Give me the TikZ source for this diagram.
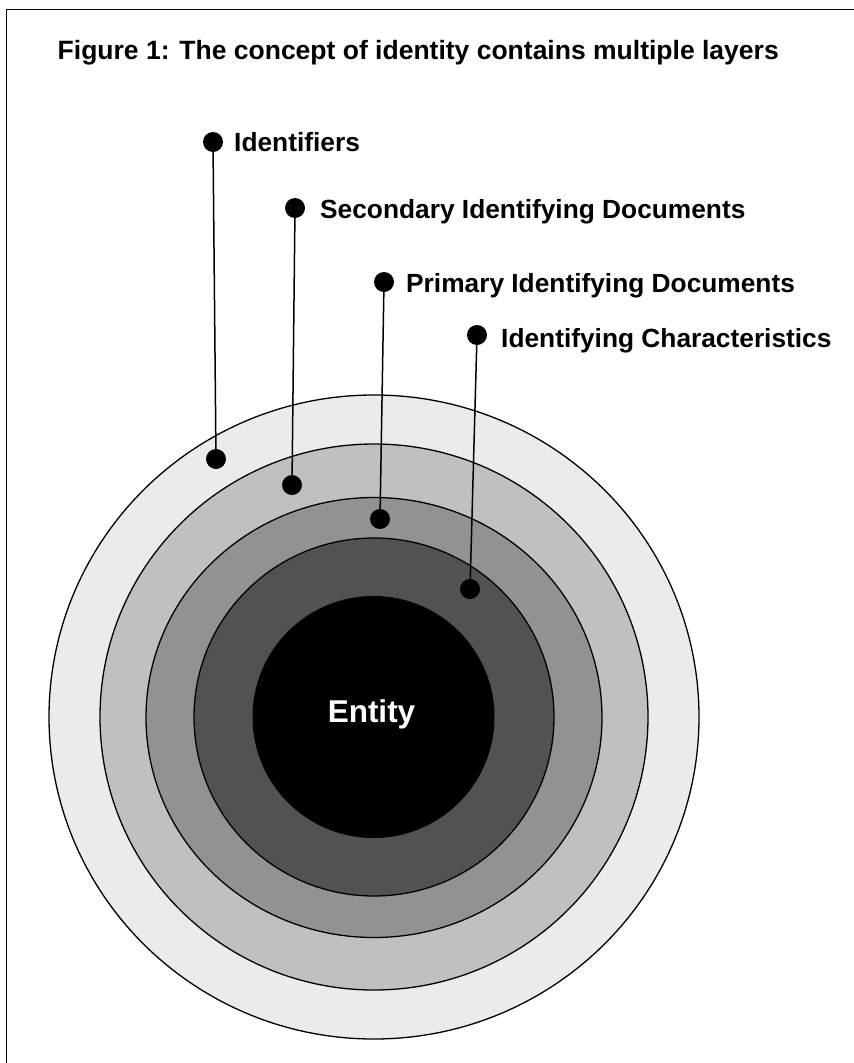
\documentclass[tikz,border=0pt]{standalone}
\usepackage{fontspec}
\setmainfont{Liberation Sans}
\usetikzlibrary{shapes.geometric}
\definecolor{ringA}{HTML}{EBEBEB}
\definecolor{ringB}{HTML}{C0C0C0}
\definecolor{ringC}{HTML}{929292}
\definecolor{ringD}{HTML}{525252}
\tikzset{
  ring/.style={ellipse, draw=black, line width=1.3pt, inner sep=0pt},
  dotnode/.style={circle, fill=black, inner sep=0pt, minimum size=20pt},
  lbl/.style={anchor=base west, inner sep=0pt, font=\fontsize{26.3}{30}\selectfont\bfseries},
  ttl/.style={anchor=base west, inner sep=0pt, font=\fontsize{26.5}{30}\selectfont\bfseries},
  leader/.style={line width=1.5pt, black},
}
\begin{document}
\begin{tikzpicture}[x=1pt, y=-1pt]
\path[use as bounding box] (0,0) rectangle (854,1063);
\clip (0,0) rectangle (854,1063);
% frame
\draw[line width=1.8pt] (6.5,1100) -- (6.5,9.5) -- (900,9.5);
% title
\node[ttl] (title) at (57.5,59) {Figure 1: The concept of identity contains multiple layers};
% rings
\node[ring, fill=ringA, minimum width=650pt, minimum height=644pt] (r1) at (374,717) {};
\node[ring, fill=ringB, minimum width=548pt, minimum height=546pt] (r2) at (374,717) {};
\node[ring, fill=ringC, minimum width=456pt, minimum height=440pt] (r3) at (374,717.5) {};
\node[ring, fill=ringD, minimum width=360pt, minimum height=358pt] (r4) at (374,717) {};
\node[ellipse, fill=black, inner sep=0pt, minimum width=242pt, minimum height=242pt] (core) at (373.5,717) {};
\node[anchor=base, inner sep=0pt, text=white, font=\fontsize{31.5}{34}\selectfont\bfseries] (entity) at (371.5,722) {Entity};
% top dots
\node[dotnode] (t1) at (213,142) {};
\node[dotnode] (t2) at (295,208) {};
\node[dotnode] (t3) at (384,282) {};
\node[dotnode] (t4) at (477,335) {};
% bottom dots
\node[dotnode] (b1) at (216,459) {};
\node[dotnode] (b2) at (292,485) {};
\node[dotnode] (b3) at (380,519) {};
\node[dotnode] (b4) at (470,589) {};
% leaders
\draw[leader] (t1.center) -- (b1.center);
\draw[leader] (t2.center) -- (b2.center);
\draw[leader] (t3.center) -- (b3.center);
\draw[leader] (t4.center) -- (b4.center);
% labels
\node[lbl] (l1) at (234,151) {Identifiers};
\node[lbl] (l2) at (320,218) {Secondary Identifying Documents};
\node[lbl] (l3) at (406,292) {Primary Identifying Documents};
\node[lbl] (l4) at (501,347) {Identifying Characteristics};
\end{tikzpicture}
\end{document}
